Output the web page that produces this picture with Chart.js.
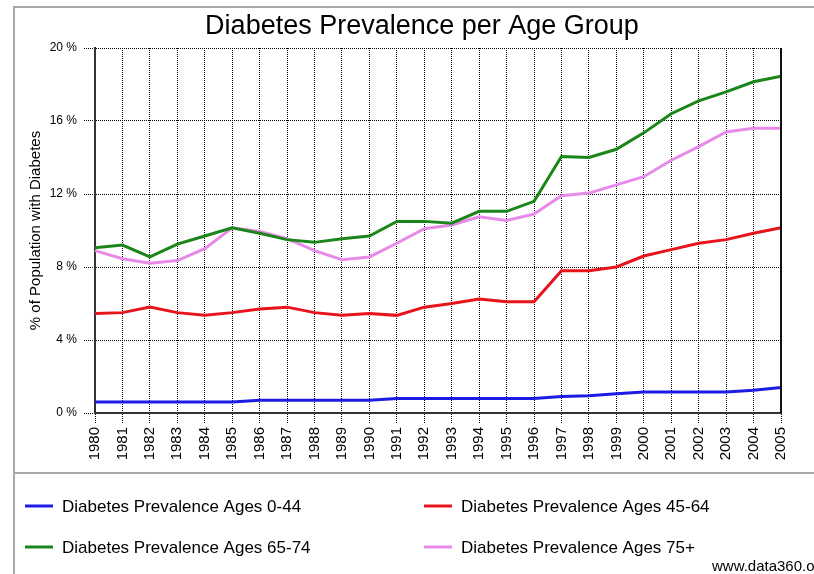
<!DOCTYPE html>
<html>
<head>
<meta charset="utf-8">
<title>Diabetes Prevalence per Age Group</title>
<script src="https://cdn.jsdelivr.net/npm/chart.js@4/dist/chart.umd.min.js"></script>
<style>
    html, body { margin: 0; padding: 0; background: #ffffff; }
    #wrap { width: 814px; height: 574px; }
</style>
</head>
<body>
<div id="wrap"><canvas id="chart" width="814" height="574"></canvas></div>
<script>
// Diabetes prevalence (% of population), 1980-2005
const years = ['1980', '1981', '1982', '1983', '1984', '1985', '1986', '1987', '1988', '1989',
    '1990', '1991', '1992', '1993', '1994', '1995', '1996', '1997', '1998', '1999',
    '2000', '2001', '2002', '2003', '2004', '2005'];

const ages0to44 = [0.6, 0.6, 0.6, 0.6, 0.6, 0.6, 0.7, 0.7, 0.7, 0.7,
    0.7, 0.8, 0.8, 0.8, 0.8, 0.8, 0.8, 0.9, 0.95, 1.05,
    1.15, 1.15, 1.15, 1.15, 1.25, 1.4];

const ages45to64 = [5.45, 5.5, 5.8, 5.5, 5.35, 5.5, 5.7, 5.8, 5.5, 5.35,
    5.45, 5.35, 5.8, 6.0, 6.25, 6.1, 6.1, 7.8, 7.8, 8.0,
    8.6, 8.95, 9.3, 9.5, 9.85, 10.15];

const ages65to74 = [9.05, 9.2, 8.55, 9.25, 9.7, 10.15, 9.85, 9.5, 9.35, 9.55,
    9.7, 10.5, 10.5, 10.4, 11.05, 11.05, 11.6, 14.05, 14.0, 14.45,
    15.35, 16.4, 17.1, 17.6, 18.15, 18.45];

const ages75plus = [8.9, 8.45, 8.2, 8.35, 9.0, 10.15, 9.95, 9.55, 8.9, 8.4,
    8.55, 9.3, 10.1, 10.3, 10.75, 10.55, 10.9, 11.9, 12.05, 12.5,
    12.95, 13.85, 14.6, 15.4, 15.6, 15.6];

const seriesLabels = [
    'Diabetes Prevalence Ages 0-44',
    'Diabetes Prevalence Ages 45-64',
    'Diabetes Prevalence Ages 65-74',
    'Diabetes Prevalence Ages 75+'
];
const seriesColors = ['#1c1ce4', '#e8141c', '#1a861a', '#e88ae8'];

const yTicks = [0, 4, 8, 12, 16, 20];

const FONT = "Arial, 'Liberation Sans', sans-serif";

// Outer frame, title, two-column legend and source line
const decorations = {
    id: 'decorations',
    beforeDraw(chart) {
        const ctx = chart.ctx;
        ctx.save();
        ctx.fillStyle = '#ffffff';
        ctx.fillRect(0, 0, chart.width, chart.height);
        ctx.strokeStyle = '#a8a8a8';
        ctx.lineWidth = 2;
        ctx.beginPath();
        ctx.moveTo(14, chart.height);
        ctx.lineTo(14, 7);
        ctx.lineTo(chart.width, 7);
        ctx.moveTo(14, 473);
        ctx.lineTo(chart.width, 473);
        ctx.stroke();
        ctx.restore();
    },
    afterDatasetsDraw(chart) {
        // solid right edge of the plot
        const {ctx, chartArea} = chart;
        ctx.save();
        ctx.strokeStyle = '#111111';
        ctx.lineWidth = 2;
        ctx.beginPath();
        ctx.moveTo(chartArea.right, chartArea.top);
        ctx.lineTo(chartArea.right, chartArea.bottom);
        ctx.stroke();
        ctx.restore();
    },
    afterDraw(chart) {
        const ctx = chart.ctx;
        ctx.save();
        ctx.fillStyle = '#000000';
        ctx.textBaseline = 'middle';

        ctx.font = '27px ' + FONT;
        ctx.textAlign = 'center';
        ctx.fillText('Diabetes Prevalence per Age Group', 422, 27);

        ctx.font = '17px ' + FONT;
        ctx.textAlign = 'left';
        const cols = [25, 424];
        const rows = [506, 547];
        chart.data.datasets.forEach((ds, i) => {
            const x = cols[i % 2];
            const y = rows[Math.floor(i / 2)];
            ctx.strokeStyle = ds.borderColor;
            ctx.lineWidth = 3;
            ctx.beginPath();
            ctx.moveTo(x, y);
            ctx.lineTo(x + 28, y);
            ctx.stroke();
            ctx.fillText(ds.label, x + 37, y + 1);
        });

        ctx.font = '15px ' + FONT;
        ctx.fillText('www.data360.org', 712, 567);
        ctx.restore();
    }
};

const datasets = [ages0to44, ages45to64, ages65to74, ages75plus].map((values, i) => ({
    label: seriesLabels[i],
    data: values,
    borderColor: seriesColors[i],
    backgroundColor: seriesColors[i],
    borderWidth: 3,
    pointRadius: 0,
    tension: 0,
    fill: false
}));

new Chart(document.getElementById('chart'), {
    type: 'line',
    data: {
        labels: years,
        datasets: datasets
    },
    options: {
        responsive: false,
        animation: false,
        layout: {
            padding: { top: 48, right: 33, bottom: 101, left: 0 }
        },
        plugins: {
            legend: { display: false },
            title: { display: false },
            tooltip: { enabled: false }
        },
        scales: {
            x: {
                offset: false,
                afterFit: (scale) => { scale.height = 60; },
                grid: {
                    color: '#000000',
                    lineWidth: 1,
                    tickLength: 11,
                    tickColor: '#000000',
                    tickBorderDash: [1, 1]
                },
                border: {
                    display: true,
                    color: '#333333',
                    width: 2,
                    dash: [1, 1]
                },
                ticks: {
                    autoSkip: false,
                    minRotation: 90,
                    maxRotation: 90,
                    padding: 3,
                    color: '#000000',
                    font: { family: FONT, size: 15 }
                }
            },
            y: {
                min: 0,
                max: 20,
                afterFit: (scale) => { scale.width = 95; },
                afterBuildTicks: (scale) => {
                    scale.ticks = yTicks.map(v => ({ value: v }));
                },
                grid: {
                    color: '#000000',
                    lineWidth: 1,
                    tickLength: 11,
                    tickColor: '#000000',
                    tickBorderDash: [1, 1]
                },
                border: {
                    display: true,
                    color: '#333333',
                    width: 2,
                    dash: [1, 1]
                },
                ticks: {
                    padding: 7,
                    color: '#000000',
                    font: { family: FONT, size: 12 },
                    callback: (value) => value + ' %'
                },
                title: {
                    display: true,
                    text: '% of Population with Diabetes',
                    color: '#000000',
                    font: { family: FONT, size: 15 },
                    padding: { top: 27, bottom: 0 }
                }
            }
        }
    },
    plugins: [decorations]
});
</script>
</body>
</html>
